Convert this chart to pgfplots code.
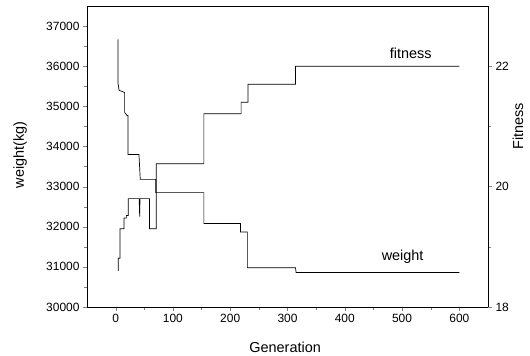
\documentclass[border=0pt]{standalone}
\usepackage{fontspec}
\setmainfont{Liberation Sans}
\usepackage{pgfplots}
\pgfplotsset{compat=1.18}
\begin{document}
\begin{tikzpicture}
\path[use as bounding box] (0,0) rectangle (530bp,356bp);
\begin{axis}[
  at={(87bp,49bp)}, anchor=south west,
  scale only axis, width=401bp, height=301bp,
  xmin=-50, xmax=650, ymin=30000, ymax=37500,
  xtick={0,100,...,600}, minor x tick num=1,
  ytick={30000,31000,...,37000}, minor y tick num=1,
  xtick pos=bottom, ytick pos=left, tick align=outside,
  major tick length=4bp, minor tick length=2.5bp,
  axis line style={line width=0.8pt},
  /pgf/number format/set thousands separator={},
  /pgf/number format/assume math mode=true,
  scaled y ticks=false,
  tick label style={font=\fontsize{12}{14}\selectfont},
  xlabel={Generation}, ylabel={weight(kg)},
  label style={font=\fontsize{14.5}{16}\selectfont},
  xlabel style={at={(axis description cs:0.494,-0.133)}, anchor=center},
  ylabel style={at={(axis description cs:-0.167,0.505)}, anchor=center},
]
\addplot[black, no marks, line width=0.7pt] coordinates {
(4,36670) (4,35590) (6,35400) (15.7,35345) (15.7,34850) (20,34770) (21.5,34770)
(21.5,33800) (40.7,33800) (43,33180) (70,33180) (70,32850) (154,32850)
(154,32080) (218,32080) (218,31870) (230,31870) (230,30980) (314,30980)
(315,30860) (600,30860)
};
\node[font=\fontsize{14.5}{16}\selectfont] at (axis cs:515,36330) {fitness};
\node[font=\fontsize{14.5}{16}\selectfont] at (axis cs:501,31244) {weight};
\end{axis}
\begin{axis}[
  at={(87bp,49bp)}, anchor=south west,
  scale only axis, width=401bp, height=301bp,
  xmin=-50, xmax=650, ymin=18, ymax=23,
  axis x line=none, axis y line*=right,
  ytick={18,20,22}, minor y tick num=1, tick align=outside,
  major tick length=4bp, minor tick length=2.5bp,
  axis line style={line width=0.8pt},
  /pgf/number format/assume math mode=true,
  tick label style={font=\fontsize{12}{14}\selectfont},
  ylabel={Fitness},
  label style={font=\fontsize{14.5}{16}\selectfont},
  ylabel style={at={(axis description cs:1.075,0.6)}, anchor=center},
]
\addplot[black, no marks, line width=0.7pt] coordinates {
(4.7,18.60) (4.7,18.81) (7.5,18.81) (7.5,19.30) (14.5,19.30) (14.5,19.48)
(18.7,19.48) (18.7,19.52) (22,19.52) (22,19.80) (41,19.80) (42,19.50) (42.5,19.80)
(59,19.80) (59,19.30) (71,19.30) (71,20.38) (154,20.38) (154,21.21) (219,21.21)
(219,21.40) (231,21.40) (231,21.70) (314,21.70) (314,22.00) (600,22.00)
};
\end{axis}
\end{tikzpicture}
\end{document}
